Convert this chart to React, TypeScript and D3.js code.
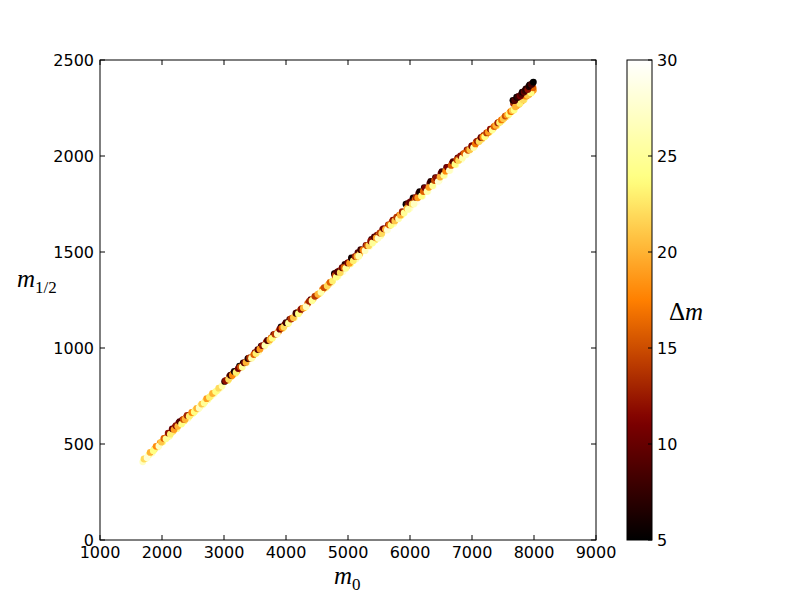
import React from "react";
import * as d3 from "d3";

// [m0, m1/2, Δm]
const segmentA: [number, number, number][] = [
  [1690, 407, 27], [1740, 425, 26], [1790, 444, 24], [1840, 453, 27], [1880, 474, 22],
  [1930, 485, 25], [1970, 506, 19], [2010, 511, 24], [2050, 531, 13], [2080, 536, 20],
  [2120, 541, 26], [2150, 562, 17], [2180, 566, 22], [2210, 588, 14], [2240, 580, 25],
  [2270, 610, 11], [2300, 608, 19], [2330, 626, 12], [2360, 620, 23], [2390, 638, 16],
  [2420, 633, 27], [2460, 653, 21], [2500, 660, 25], [2540, 676, 22], [2580, 682, 26],
  [2620, 698, 24], [2660, 705, 27], [2700, 724, 23], [2740, 731, 26], [2790, 750, 24],
  [2840, 760, 27], [2890, 778, 25], [2940, 790, 28],
  [1710, 422, 22], [1760, 429, 28], [1810, 456, 20], [1860, 465, 24], [1905, 488, 18],
  [1950, 489, 27], [1990, 510, 21], [2030, 529, 16], [2065, 527, 25], [2100, 557, 12],
  [2135, 551, 23], [2165, 579, 10], [2195, 575, 19], [2225, 595, 12], [2255, 592, 20],
  [2285, 617, 9], [2315, 604, 24], [2345, 628, 15], [2375, 629, 20], [2405, 649, 13],
  [2440, 645, 23], [2480, 664, 18], [2520, 667, 24], [2560, 685, 20], [2600, 688, 27],
  [2640, 708, 21], [2680, 714, 25], [2720, 736, 19], [2765, 744, 23], [2815, 763, 20],
  [2865, 773, 24], [2915, 791, 22], [2970, 802, 26],
];

const segmentB: [number, number, number][] = [
  [3010, 826, 7], [3040, 831, 16], [3060, 830, 24], [3090, 852, 10], [3120, 853, 20],
  [3150, 868, 13], [3180, 866, 26], [3210, 882, 17], [3250, 905, 5], [3280, 900, 22],
  [3310, 923, 6], [3340, 924, 15], [3370, 922, 28], [3400, 947, 9], [3430, 948, 19],
  [3460, 953, 24], [3500, 976, 11], [3530, 980, 17], [3560, 981, 27], [3600, 1010, 8],
  [3640, 1011, 21], [3680, 1030, 13], [3720, 1031, 25], [3760, 1052, 16], [3800, 1069, 10],
  [3840, 1071, 22], [3880, 1086, 18], [3920, 1110, 6], [3950, 1101, 26], [3980, 1122, 12],
  [4020, 1128, 20], [4060, 1149, 9], [4100, 1155, 17], [4140, 1158, 27], [4180, 1184, 11],
  [4220, 1190, 19], [4260, 1206, 14], [4300, 1210, 24], [4350, 1232, 16], [4400, 1252, 10],
  [4440, 1256, 21], [4490, 1273, 18], [4540, 1284, 23], [4590, 1305, 17], [4640, 1313, 25],
  [4690, 1333, 19], [4730, 1338, 27],
  [3025, 830, 12], [3075, 837, 22], [3105, 858, 8], [3135, 858, 18], [3165, 878, 6],
  [3195, 873, 23], [3230, 893, 11], [3265, 901, 15], [3295, 901, 25], [3325, 923, 10],
  [3355, 925, 20], [3385, 945, 7], [3415, 948, 14], [3445, 947, 26], [3480, 966, 16],
  [3515, 971, 23], [3545, 992, 9], [3580, 994, 19], [3620, 1012, 12], [3660, 1013, 26],
  [3700, 1039, 9], [3740, 1042, 20], [3780, 1051, 24], [3820, 1072, 14], [3860, 1073, 27],
  [3900, 1098, 11], [3935, 1104, 17], [3965, 1109, 22], [4000, 1132, 8], [4040, 1129, 25],
  [4080, 1151, 14], [4120, 1158, 21], [4160, 1181, 8], [4200, 1179, 24], [4240, 1201, 12],
  [4280, 1208, 20], [4325, 1215, 27], [4375, 1243, 13], [4420, 1246, 25], [4465, 1269, 14],
  [4515, 1280, 20], [4565, 1290, 26], [4615, 1314, 15], [4665, 1323, 22], [4710, 1342, 16],
  [4750, 1349, 23],
];

const segmentC: [number, number, number][] = [
  [4780, 1387, 5], [4800, 1388, 8], [4820, 1378, 20], [4840, 1375, 26], [4860, 1401, 12],
  [4890, 1403, 17], [4920, 1397, 28], [4950, 1436, 7], [4980, 1424, 22], [5010, 1444, 14],
  [5040, 1438, 25], [5070, 1468, 10], [5100, 1466, 18], [5130, 1463, 27], [5160, 1497, 9],
  [5190, 1489, 21], [5220, 1509, 13], [5260, 1507, 24], [5290, 1534, 11], [5320, 1532, 19],
  [5350, 1528, 28], [5380, 1565, 8], [5410, 1563, 16], [5440, 1563, 23], [5470, 1588, 12],
  [5500, 1586, 20], [5530, 1586, 26], [5560, 1618, 10], [5590, 1618, 17], [5620, 1616, 25],
  [5650, 1641, 13], [5680, 1639, 21], [5710, 1657, 15], [5740, 1649, 27], [5770, 1671, 18],
  [5800, 1675, 22], [5830, 1692, 16], [5860, 1690, 24], [5890, 1706, 19],
  [4790, 1377, 14], [4810, 1369, 24], [4830, 1396, 9], [4875, 1392, 22], [4905, 1418, 10],
  [4935, 1418, 16], [4965, 1415, 25], [4995, 1443, 11], [5025, 1442, 19], [5055, 1469, 6],
  [5085, 1454, 23], [5115, 1477, 13], [5145, 1477, 20], [5175, 1478, 26], [5205, 1512, 8],
  [5240, 1510, 17], [5275, 1507, 27], [5305, 1533, 15], [5335, 1533, 22], [5365, 1556, 12],
  [5395, 1547, 25], [5425, 1578, 9], [5455, 1573, 19], [5485, 1571, 27], [5515, 1599, 14],
  [5545, 1597, 22], [5575, 1621, 11], [5605, 1618, 20], [5635, 1615, 28], [5665, 1641, 16],
  [5695, 1640, 24], [5725, 1666, 12], [5755, 1662, 21], [5785, 1681, 14], [5815, 1673, 26],
  [5845, 1692, 20], [5875, 1710, 13], [5905, 1703, 25],
];

const segmentD: [number, number, number][] = [
  [5935, 1749, 5], [5960, 1752, 8], [5980, 1747, 14], [6000, 1728, 28], [6020, 1764, 11],
  [6050, 1782, 6], [6080, 1772, 17], [6110, 1761, 29], [6140, 1805, 9], [6170, 1808, 12],
  [6200, 1790, 27], [6230, 1835, 7], [6260, 1831, 15], [6290, 1817, 28], [6320, 1857, 10],
  [6350, 1861, 13], [6380, 1843, 29], [6410, 1887, 8], [6440, 1880, 18], [6470, 1873, 27],
  [6500, 1909, 11], [6530, 1910, 16], [6560, 1899, 28], [6590, 1940, 9], [6620, 1941, 14],
  [6650, 1926, 29], [6680, 1961, 12], [6710, 1959, 19], [6740, 1955, 27], [6770, 1990, 10],
  [6800, 1989, 17], [6830, 1982, 28], [6860, 2011, 13], [6890, 2011, 20], [6920, 2032, 11],
  [6950, 2018, 29], [6980, 2041, 18], [7010, 2054, 14], [7040, 2054, 21], [7070, 2073, 12],
  [7100, 2075, 19], [7130, 2086, 16], [7160, 2089, 22], [7190, 2107, 13], [7220, 2108, 20],
  [7250, 2121, 17], [7280, 2124, 23], [7310, 2140, 15], [7340, 2143, 21], [7370, 2155, 18],
  [7400, 2158, 24], [7430, 2175, 16], [7460, 2180, 20], [7490, 2185, 25], [7520, 2199, 18],
  [7550, 2205, 22], [7580, 2211, 26], [7610, 2226, 19], [7640, 2232, 23],
  [5950, 1727, 20], [5970, 1722, 26], [5995, 1758, 10], [6035, 1750, 22], [6065, 1750, 27],
  [6095, 1784, 13], [6125, 1782, 19], [6155, 1814, 6], [6185, 1792, 24], [6215, 1815, 16],
  [6245, 1833, 11], [6275, 1815, 26], [6305, 1837, 19], [6335, 1868, 7], [6365, 1845, 25],
  [6395, 1872, 15], [6425, 1886, 12], [6455, 1867, 28], [6485, 1890, 20], [6515, 1919, 8],
  [6545, 1900, 25], [6575, 1921, 18], [6605, 1941, 11], [6635, 1924, 27], [6665, 1951, 16],
  [6695, 1971, 9], [6725, 1957, 24], [6755, 1980, 15], [6785, 1977, 22], [6815, 2001, 12],
  [6845, 1990, 26], [6875, 2014, 16], [6905, 2006, 27], [6935, 2030, 15], [6965, 2032, 21],
  [6995, 2052, 11], [7025, 2044, 26], [7055, 2063, 17], [7085, 2077, 13], [7115, 2075, 22],
  [7145, 2097, 10], [7175, 2098, 18], [7205, 2100, 24], [7235, 2120, 14], [7265, 2124, 19],
  [7295, 2140, 12], [7325, 2135, 25], [7355, 2153, 16], [7385, 2159, 20], [7415, 2173, 13],
  [7445, 2174, 23], [7475, 2188, 17], [7505, 2194, 21], [7535, 2208, 15], [7565, 2213, 19],
  [7595, 2218, 24], [7625, 2231, 17], [7650, 2237, 21],
];

const segmentE: [number, number, number][] = [
  [7680, 2240, 24], [7720, 2262, 18], [7760, 2270, 21], [7800, 2285, 19], [7840, 2293, 23],
  [7880, 2312, 17], [7920, 2320, 20], [7960, 2331, 22], [7990, 2342, 19],
  [7670, 2274, 13], [7700, 2256, 20], [7745, 2285, 16], [7770, 2274, 23], [7820, 2304, 15],
  [7825, 2292, 22], [7860, 2312, 18], [7895, 2316, 21], [7945, 2347, 13], [7950, 2330, 24],
  [7985, 2355, 16],
  [7660, 2290, 6], [7690, 2289, 9], [7720, 2307, 5], [7735, 2305, 7], [7750, 2310, 8],
  [7780, 2312, 11], [7795, 2321, 9], [7810, 2333, 6], [7840, 2333, 10], [7855, 2341, 8],
  [7870, 2349, 7], [7900, 2346, 12], [7915, 2362, 7], [7930, 2370, 6], [7960, 2372, 9],
  [7975, 2378, 8], [7990, 2385, 5],
];

const xTicks = [1000, 2000, 3000, 4000, 5000, 6000, 7000, 8000, 9000];
const yTicks = [0, 500, 1000, 1500, 2000, 2500];
const cTicks = [5, 10, 15, 20, 25, 30];

const L = 100, R = 596, T = 60, B = 540;
const CB_L = 627, CB_R = 652;

function afmhot(t: number): string {
  const c = (v: number) => Math.max(0, Math.min(1, v));
  const r = c(2 * t), g = c(2 * t - 0.5), b = c(2 * t - 1);
  return d3.rgb(r * 255, g * 255, b * 255).formatHex();
}

export default function App() {
  const x = d3.scaleLinear().domain([1000, 9000]).range([L, R]);
  const y = d3.scaleLinear().domain([0, 2500]).range([B, T]);
  const cy = d3.scaleLinear().domain([5, 30]).range([B, T]);
  const cnorm = d3.scaleLinear().domain([5, 30]).range([0, 1]).clamp(true);
  const points = [...segmentA, ...segmentB, ...segmentC, ...segmentD, ...segmentE];
  const stops = d3.range(0, 1.0001, 0.02);
  const font = "'DejaVu Sans', sans-serif";
  const tl = 5;
  return (
    <svg width={800} height={600} style={{ position: "absolute", left: 0, top: 0, background: "#fff" }}>
      <defs>
        <linearGradient id="cbar" x1="0" y1="1" x2="0" y2="0">
          {stops.map((s) => (
            <stop key={s} offset={s} stopColor={afmhot(s)} />
          ))}
        </linearGradient>
      </defs>
      <rect x={0} y={0} width={800} height={600} fill="#fff" />
      <g>
        {points.map(([m0, m12, dm], i) => (
          <circle key={i} cx={x(m0)} cy={y(m12)} r={3.4} fill={afmhot(cnorm(dm))} />
        ))}
      </g>
      <rect x={L} y={T} width={R - L} height={B - T} fill="none" stroke="#000" strokeWidth={1} />
      {xTicks.map((t) => (
        <g key={"x" + t}>
          <line x1={x(t)} x2={x(t)} y1={B} y2={B - tl} stroke="#000" />
          <line x1={x(t)} x2={x(t)} y1={T} y2={T + tl} stroke="#000" />
          <text x={x(t)} y={558} textAnchor="middle" fontFamily={font} fontSize={16} fill="#000">{t}</text>
        </g>
      ))}
      {yTicks.map((t) => (
        <g key={"y" + t}>
          <line x1={L} x2={L + tl} y1={y(t)} y2={y(t)} stroke="#000" />
          <line x1={R} x2={R - tl} y1={y(t)} y2={y(t)} stroke="#000" />
          <text x={94} y={y(t)} dy="0.35em" textAnchor="end" fontFamily={font} fontSize={16} fill="#000">{t}</text>
        </g>
      ))}
      <text x={334} y={584} fontFamily="'Liberation Serif', serif" fontSize={25} fontStyle="italic" fill="#000">
        m<tspan fontStyle="normal" fontSize={17} dy={6}>0</tspan>
      </text>
      <text x={17} y={287} fontFamily="'Liberation Serif', serif" fontSize={25} fontStyle="italic" fill="#000">
        m<tspan fontStyle="normal" fontSize={17} dy={6}>1/2</tspan>
      </text>
      <rect x={CB_L} y={T} width={CB_R - CB_L} height={B - T} fill="url(#cbar)" stroke="#000" strokeWidth={1} />
      {cTicks.map((t) => (
        <g key={"c" + t}>
          <line x1={CB_R} x2={CB_R - 4} y1={cy(t)} y2={cy(t)} stroke="#000" />
          <text x={657} y={cy(t)} dy="0.35em" fontFamily={font} fontSize={16} fill="#000">{t}</text>
        </g>
      ))}
      <text x={669} y={320} fontFamily="'Liberation Serif', serif" fontSize={25} fill="#000">
        Δ<tspan fontStyle="italic">m</tspan>
      </text>
    </svg>
  );
}
